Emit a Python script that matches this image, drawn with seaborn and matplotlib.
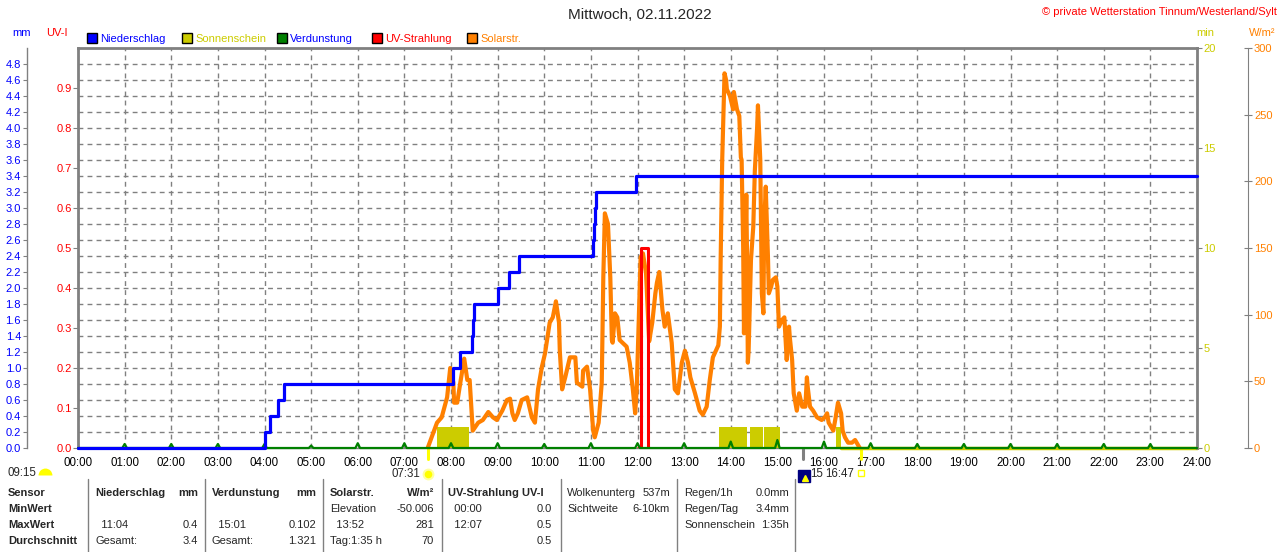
import numpy as np
import matplotlib
matplotlib.use("Agg")
import matplotlib.pyplot as plt
import matplotlib.ticker as mticker
import matplotlib.transforms as mtrans
from matplotlib.patches import Rectangle
import seaborn as sns

# ---------------- data (times in minutes after midnight) ----------------
title = "Mittwoch, 02.11.2022"
copyright_text = "\u00a9 private Wetterstation Tinnum/Westerland/Sylt"
hour_labels = [f"{h:02d}:00" for h in range(25)]

# Niederschlag, cumulative mm (step line)
rain_min = [0, 241, 247, 257, 265, 483, 491, 507, 508, 510, 540, 555, 568,
            663, 664, 665, 667, 718, 1440]
rain_mm = [0.0, 0.2, 0.4, 0.6, 0.8, 1.0, 1.2, 1.4, 1.6, 1.8, 2.0, 2.2, 2.4,
           2.6, 2.8, 3.0, 3.2, 3.4, 3.4]

# Verdunstung, small hourly values in mm
evap_hours = list(range(1, 24))
evap_mm = [0.05, 0.05, 0.05, 0.05, 0.03, 0.06, 0.06, 0.06, 0.06, 0.05, 0.06,
           0.06, 0.06, 0.08, 0.10, 0.08, 0.06, 0.05, 0.05, 0.05, 0.05, 0.05,
           0.05]

# UV-Strahlung, UV index (step line)
uv_min = [720, 724, 733, 736]
uv_index = [0.0, 0.5, 0.0, 0.0]

# Sonnenschein, minutes per interval
sun_start = [462, 825, 865, 883, 975]
sun_end = [503, 861, 881, 903, 982]
sun_minutes = [1.05, 1.05, 1.05, 1.05, 1.05]
sun_zero_min = [982, 1440]

# Solarstrahlung, W/m2
solar_min = [450, 457, 462, 468, 475, 479, 483, 484, 488, 492, 497, 501, 504,
             508, 515, 521, 528, 534, 539, 546, 552, 556, 559, 562, 566, 571,
             578, 584, 588, 592, 597, 601, 607, 611, 615, 619, 620, 623, 627,
             633, 640, 642, 649, 650, 655, 659, 663, 665, 670, 674, 676, 678,
             682, 685, 687, 688, 691, 694, 697, 706, 710, 714, 717, 719, 721,
             724, 727, 731, 735, 739, 743, 745, 748, 752, 755, 759, 764, 768,
             772, 777, 781, 785, 788, 794, 800, 804, 809, 813, 817, 824, 826,
             827, 829, 832, 834, 835, 839, 843, 844, 848, 851, 853, 854, 856,
             857, 860, 861, 862, 863, 866, 869, 871, 874, 875, 878, 880, 882,
             883, 885, 888, 889, 892, 894, 898, 900, 902, 906, 909, 912, 915,
             916, 919, 921, 925, 928, 932, 936, 938, 939, 942, 946, 951, 957,
             961, 964, 966, 972, 975, 978, 982, 984, 987, 991, 996, 1000, 1004,
             1006]
solar_wm2 = [0, 11, 19, 23, 38, 60, 49, 34, 34, 49, 67, 51, 51,
             13, 19, 21, 27, 23, 21, 28, 36, 37, 26, 21, 26, 36,
             38, 23, 19, 44, 61, 71, 94, 98, 110, 94, 73, 44, 53,
             68, 68, 49, 46, 58, 61, 44, 13, 8, 19, 49, 128, 176,
             168, 128, 81, 79, 101, 98, 81, 76, 64, 44, 26, 44, 83,
             143, 146, 131, 80, 94, 116, 124, 132, 104, 91, 101, 79, 44,
             41, 64, 73, 64, 53, 41, 28, 25, 31, 51, 68, 77, 91,
             141, 216, 281, 276, 269, 264, 254, 267, 254, 249, 218, 216, 150,
             86, 190, 141, 64, 73, 141, 166, 208, 241, 257, 216, 116, 101,
             166, 196, 141, 116, 121, 126, 128, 121, 91, 96, 98, 66, 91,
             83, 66, 41, 28, 41, 31, 31, 53, 46, 31, 28, 23, 21,
             23, 26, 19, 13, 23, 34, 26, 13, 8, 4, 4, 6, 2,
             0]

sunrise = "07:31"
sunset = "16:47"
moon_time = "15:33"
moon_text = "15"
day_length = "09:15"

legend_names = ["Niederschlag", "Sonnenschein", "Verdunstung", "UV-Strahlung", "Solarstr."]

row_labels = ["Sensor", "MinWert", "MaxWert", "Durchschnitt"]
table_cells = [
    [("Niederschlag", "mm"), ("", ""), ("  11:04", "0.4"), ("Gesamt:", "3.4")],
    [("Verdunstung", "mm"), ("", ""), ("  15:01", "0.102"), ("Gesamt:", "1.321")],
    [("Solarstr.", "W/m\u00b2"), ("Elevation", "-50.006"), ("  13:52", "281"), ("Tag:1:35 h", "70")],
    [("UV-Strahlung UV-I", ""), ("  00:00", "0.0"), ("  12:07", "0.5"), ("", "0.5")],
    [("Wolkenunterg", "537m"), ("Sichtweite", "6-10km"), ("", ""), ("", "")],
    [("Regen/1h", "0.0mm"), ("Regen/Tag", "3.4mm"), ("Sonnenschein", "1:35h"), ("", "")],
]
bold_header = [True, True, True, True, False, False]


def to_min(s):
    h, m = s.split(":")
    return int(h) * 60 + int(m)


# ---------------- style ----------------
BLUE = "#0000FF"
SUNC = "#CCCC00"
GREEN = "#008000"
RED = "#FF0000"
ORANGE = "#FF8000"
GREY = "#808080"

sns.set_style("white")
plt.rcParams["font.family"] = ["Liberation Sans", "DejaVu Sans"]
plt.rcParams["font.size"] = 8

fig = plt.figure(figsize=(12.8, 5.52), dpi=100)
ax = fig.add_axes([78 / 1280, 104 / 552, 1119 / 1280, 400 / 552])
ax_min = ax.twinx()
ax_sol = ax.twinx()
ax_uv = ax.twinx()
ax_rain = ax.twinx()

# base axes: mm scale + grid
ax.set_xlim(0, 1440)
ax.set_ylim(0, 5)
ax.set_xticks(range(0, 1441, 60))
ax.set_xticklabels(hour_labels)
ax.set_yticks(np.arange(0, 4.81, 0.2))
ax.yaxis.set_major_formatter(mticker.FormatStrFormatter("%.1f"))
ax.grid(True, color=GREY, linestyle=(0, (3.5, 3)), linewidth=1)
ax.set_axisbelow(True)
ax.tick_params(axis="x", length=0, pad=6.5, labelsize=8.3, labelcolor="black")
ax.tick_params(axis="y", length=3, pad=1, color=GREY, labelsize=8, labelcolor=BLUE)
ax.spines["left"].set_position(("outward", 37))
ax.spines["left"].set_color(GREY)
ax.spines["left"].set_linewidth(1)
ax.spines["top"].set_color(GREY)
ax.spines["top"].set_linewidth(2)
ax.spines["bottom"].set_color(GREY)
ax.spines["bottom"].set_linewidth(1)
ax.spines["right"].set_visible(False)

for a in (ax_min, ax_sol, ax_uv, ax_rain):
    for s in a.spines.values():
        s.set_visible(False)

# sunshine
ax_min.bar(sun_start, sun_minutes, width=np.subtract(sun_end, sun_start),
           align="edge", color=SUNC, linewidth=0)
sns.lineplot(x=sun_zero_min, y=[0, 0], ax=ax_min, color=SUNC, linewidth=2.5,
             sort=False, estimator=None, legend=False, clip_on=False)
ax_min.set_ylim(0, 20)
ax_min.set_yticks([0, 5, 10, 15, 20])
ax_min.spines["right"].set_visible(True)
ax_min.spines["right"].set_color(GREY)
ax_min.spines["right"].set_linewidth(2)
ax_min.tick_params(axis="y", length=3.5, pad=1, color=GREY, labelsize=8, labelcolor=SUNC)

# solar radiation
sns.lineplot(x=solar_min, y=solar_wm2, ax=ax_sol, color=ORANGE, linewidth=3.0,
             sort=False, estimator=None, legend=False)
ax_sol.set_ylim(0, 300)
ax_sol.set_yticks(range(0, 301, 50))
ax_sol.spines["right"].set_visible(True)
ax_sol.spines["right"].set_position(("outward", 37))
ax_sol.spines["right"].set_color(GREY)
ax_sol.tick_params(axis="y", direction="inout", length=6, pad=1, color=GREY,
                   labelsize=8, labelcolor=ORANGE)

# UV
sns.lineplot(x=uv_min, y=uv_index, ax=ax_uv, color=RED, linewidth=2.2,
             drawstyle="steps-post", sort=False, estimator=None, legend=False)
ax_uv.set_ylim(0, 1.0)
ax_uv.yaxis.tick_left()
ax_uv.set_yticks(np.arange(0, 0.91, 0.1))
ax_uv.yaxis.set_major_formatter(mticker.FormatStrFormatter("%.1f"))
ax_uv.spines["left"].set_visible(True)
ax_uv.spines["left"].set_color(GREY)
ax_uv.spines["left"].set_linewidth(2)
ax_uv.tick_params(axis="y", length=3.5, pad=1, color=GREY, labelsize=8, labelcolor=RED)

# evaporation spikes + precipitation
ev_t, ev_v = [0], [0.0]
for h, v in zip(evap_hours, evap_mm):
    ev_t += [h * 60 - 3, h * 60, h * 60 + 3]
    ev_v += [0.0, v, 0.0]
ev_t.append(1440)
ev_v.append(0.0)
sns.lineplot(x=ev_t, y=ev_v, ax=ax_rain, color=GREEN, linewidth=1.6,
             sort=False, estimator=None, legend=False, clip_on=False)
sns.lineplot(x=rain_min, y=rain_mm, ax=ax_rain, color=BLUE, linewidth=2.3,
             drawstyle="steps-post", sort=False, estimator=None, legend=False,
             clip_on=False)
ax_rain.set_ylim(0, 5)
ax_rain.set_yticks([])
for a in (ax_min, ax_sol, ax_uv, ax_rain):
    a.set_xlim(0, 1440)
    a.set_ylabel("")
ax.set_xlabel("")

# sunrise / sunset / moon markers under the axis
trans = mtrans.blended_transform_factory(ax.transData, ax.transAxes)
sr, ss, mt = to_min(sunrise), to_min(sunset), to_min(moon_time)
ax.plot([sr, sr], [0.005, -0.027], color="#FFFF00", lw=2.2, transform=trans, clip_on=False)
ax.plot([ss, ss], [0.0, -0.027], color="#FFFF00", lw=2.2, transform=trans, clip_on=False)
ax.plot([mt, mt], [0.0, -0.027], color=GREY, lw=2.2, transform=trans, clip_on=False)
ax.plot(sr, -0.065, marker="o", ms=7, mfc="#FFFF00", mec="#FFFFA0", mew=1.5,
        transform=trans, clip_on=False)
ax.text(sr, -0.065, sunrise, transform=mtrans.offset_copy(trans, fig=fig, x=-8, units="dots"),
        ha="right", va="center", fontsize=8.3)
ax.plot(ss, -0.063, marker="s", ms=5, mfc="none", mec="#FFFF00", mew=1,
        transform=trans, clip_on=False)
ax.text(ss, -0.065, sunset, transform=mtrans.offset_copy(trans, fig=fig, x=-6, units="dots"),
        ha="right", va="center", fontsize=8.3)
ax.plot(mt, -0.07, marker="s", ms=9, mfc="#000080", mec="#000080",
        transform=mtrans.offset_copy(trans, fig=fig, x=1, units="dots"), clip_on=False)
ax.plot(mt, -0.075, marker="^", ms=4, mfc="#FFFF00", mec="#FFFF00",
        transform=mtrans.offset_copy(trans, fig=fig, x=2, units="dots"), clip_on=False)
ax.text(mt, -0.065, moon_text, transform=mtrans.offset_copy(trans, fig=fig, x=7, units="dots"),
        ha="left", va="center", fontsize=8.3)

# ---------------- figure-level texts, legend, table ----------------
axf = fig.add_axes([0, 0, 1, 1], zorder=5)
axf.set_xlim(0, 1280)
axf.set_ylim(552, 0)
axf.axis("off")

axf.text(640, 15, title, ha="center", va="center", fontsize=11)
axf.text(1277, 12, copyright_text, ha="right", va="center", fontsize=8, color=RED)
axf.text(22, 33, "mm", ha="center", va="center", color=BLUE)
axf.text(57, 33, "UV-I", ha="center", va="center", color=RED)
axf.text(1205, 33, "min", ha="center", va="center", color=SUNC)
axf.text(1262, 33, "W/m\u00b2", ha="center", va="center", color=ORANGE)

box_colors = [BLUE, SUNC, GREEN, RED, ORANGE]
text_colors = [BLUE, SUNC, BLUE, RED, ORANGE]
for i, (name, bc, tc) in enumerate(zip(legend_names, box_colors, text_colors)):
    x0 = 87 + 95 * i
    axf.add_patch(Rectangle((x0, 33), 10, 10, facecolor=bc, edgecolor="black", lw=1))
    axf.text(x0 + 13, 38.5, name, ha="left", va="center", color=tc)

axf.text(8, 473, day_length, ha="left", va="center", fontsize=8.3)
axf.plot(45, 475, marker="o", ms=10, fillstyle="top", mfc="#FFFF00",
         markerfacecoloralt="none", mec="none")

row_y = [493, 509, 525, 541]
col_left = [95, 212, 330, 448, 567, 684]
col_right = [198, 316, 434, 552, 670, 789]
for x in [88, 205, 323, 442, 561, 677, 795]:
    axf.plot([x, x], [479, 552], color=GREY, lw=1)
for y, lab in zip(row_y, row_labels):
    axf.text(8, y, lab, ha="left", va="center", fontweight="bold")
for cells, xl, xr, bh in zip(table_cells, col_left, col_right, bold_header):
    for r, (left, right) in enumerate(cells):
        fw = "bold" if (r == 0 and bh) else "normal"
        axf.text(xl, row_y[r], left, ha="left", va="center", fontweight=fw)
        axf.text(xr, row_y[r], right, ha="right", va="center", fontweight=fw)

fig.savefig("out.png", dpi=100)
